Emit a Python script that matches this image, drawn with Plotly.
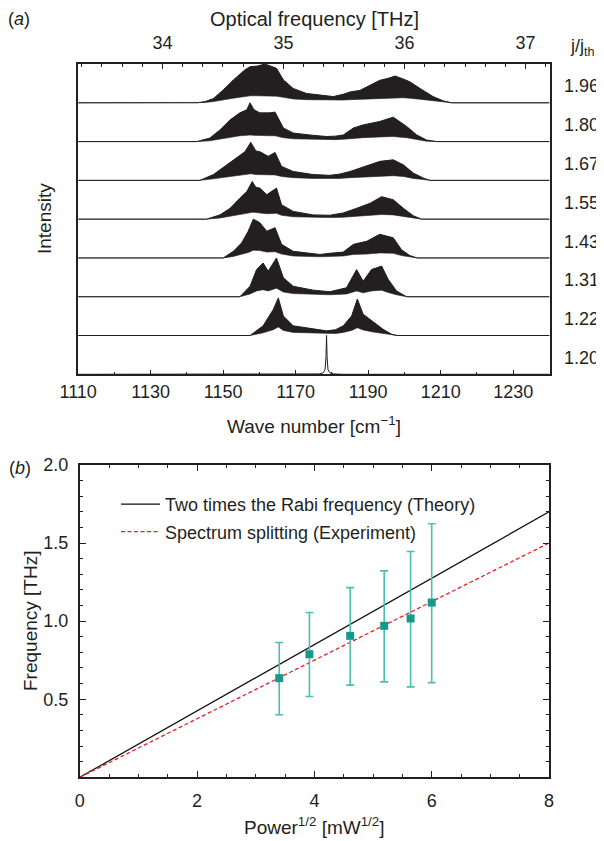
import plotly.graph_objects as go

W, H = 604, 841          # target picture size
BODY = 8                 # default page margin around the plot div
FW, FH = W - BODY, H - BODY
INK = "#231f20"
FONT = "Liberation Sans, Arial, Helvetica, sans-serif"

# ---------------- Panel (a) data: spectra envelopes (wave number cm^-1, normalised intensity) ----------------
j_labels = ["1.20", "1.22", "1.31", "1.43", "1.55", "1.67", "1.80", "1.96"]

wn_120 = [1110, 1174, 1176.5, 1177.6, 1178.1, 1178.35, 1178.5, 1178.65, 1178.9, 1179.4, 1180.5, 1183, 1240]
up_120 = [0, 0, 0.01, 0.04, 0.12, 0.45, 1.0, 0.45, 0.12, 0.04, 0.01, 0, 0]
lo_120 = None

wn_122 = [1110, 1157.4, 1161, 1163.8, 1165.2, 1166.6, 1169.3, 1173, 1178.5, 1181, 1183.1, 1185.4, 1187, 1188.6, 1191.4, 1194.1, 1196.5, 1198, 1240]
up_122 = [0, 0, 0.25, 0.67, 0.97, 0.50, 0.25, 0.20, 0.12, 0.15, 0.25, 0.50, 0.94, 0.55, 0.34, 0.16, 0.03, 0, 0]
lo_122 = [0, 0, 0.07, 0.15, 0.22, 0.13, 0.08, 0.07, 0.05, 0.05, 0.08, 0.13, 0.20, 0.14, 0.09, 0.05, 0.01, 0, 0]

wn_131 = [1110, 1154.6, 1157.4, 1159.2, 1161, 1162.4, 1164.7, 1166.6, 1169.3, 1174.8, 1179.4, 1181.3, 1184, 1186.8, 1188.6, 1190.9, 1193.7, 1195.5, 1197.8, 1200.6, 1240]
up_131 = [0, 0, 0.27, 0.70, 0.87, 0.66, 1.0, 0.49, 0.27, 0.17, 0.13, 0.17, 0.23, 0.70, 0.40, 0.70, 0.79, 0.45, 0.15, 0, 0]
lo_131 = [0, 0, 0.07, 0.15, 0.18, 0.15, 0.22, 0.12, 0.08, 0.06, 0.05, 0.06, 0.07, 0.15, 0.10, 0.15, 0.17, 0.11, 0.05, 0, 0]

wn_143 = [1110, 1150, 1152.8, 1155.1, 1156.9, 1158.3, 1160.1, 1162, 1164.3, 1166.1, 1169.3, 1176.7, 1179.4, 1183.1, 1185.9, 1189.6, 1193.2, 1196.9, 1199.2, 1201.5, 1203.5, 1240]
up_143 = [0, 0, 0.17, 0.39, 0.69, 1.0, 0.91, 0.69, 0.78, 0.35, 0.17, 0.09, 0.12, 0.15, 0.35, 0.43, 0.61, 0.52, 0.21, 0.06, 0, 0]
lo_143 = [0, 0, 0.04, 0.09, 0.14, 0.20, 0.19, 0.15, 0.16, 0.10, 0.05, 0.03, 0.04, 0.05, 0.09, 0.10, 0.13, 0.12, 0.06, 0.02, 0, 0]

wn_155 = [1110, 1145.4, 1149.1, 1151.9, 1154.6, 1156.5, 1158, 1159, 1160.1, 1162, 1164.7, 1166.1, 1169.3, 1174.8, 1179.4, 1183.1, 1186.8, 1190.5, 1193.7, 1196.9, 1199.7, 1202.4, 1204.7, 1240]
up_155 = [0, 0, 0.11, 0.28, 0.54, 0.71, 0.97, 0.82, 0.80, 0.63, 0.80, 0.37, 0.20, 0.11, 0.10, 0.16, 0.28, 0.41, 0.58, 0.50, 0.28, 0.09, 0, 0]
lo_155 = [0, 0, 0.03, 0.07, 0.12, 0.15, 0.18, 0.17, 0.16, 0.14, 0.15, 0.10, 0.06, 0.04, 0.04, 0.05, 0.08, 0.10, 0.12, 0.11, 0.07, 0.03, 0, 0]

wn_167 = [1110, 1143.6, 1147.3, 1151, 1153.7, 1156, 1157.6, 1159, 1160.1, 1162.4, 1164.3, 1166.1, 1169.3, 1174.8, 1179.4, 1182, 1185, 1188.6, 1193.2, 1196.9, 1199.7, 1202.4, 1205.2, 1207, 1240]
up_167 = [0, 0, 0.15, 0.40, 0.57, 0.74, 0.98, 0.76, 0.74, 0.62, 0.72, 0.36, 0.23, 0.15, 0.13, 0.16, 0.23, 0.34, 0.49, 0.53, 0.40, 0.19, 0.06, 0, 0]
lo_167 = [0, 0, 0.04, 0.09, 0.13, 0.15, 0.17, 0.15, 0.15, 0.14, 0.14, 0.10, 0.07, 0.05, 0.05, 0.05, 0.07, 0.09, 0.11, 0.12, 0.10, 0.05, 0.02, 0, 0]

wn_180 = [1110, 1142.7, 1146.3, 1149.1, 1151.9, 1154.6, 1156.5, 1157.4, 1158.5, 1160.1, 1162.9, 1164.3, 1166.6, 1169.3, 1173.9, 1178.5, 1181, 1183.1, 1185.9, 1188.6, 1193.2, 1196.9, 1200.6, 1203.4, 1206.1, 1208.9, 1240]
up_180 = [0, 0, 0.09, 0.30, 0.56, 0.74, 0.82, 1.0, 0.82, 0.74, 0.74, 0.76, 0.35, 0.22, 0.17, 0.13, 0.14, 0.17, 0.35, 0.43, 0.52, 0.63, 0.39, 0.17, 0.04, 0, 0]
lo_180 = [0, 0, 0.02, 0.07, 0.12, 0.15, 0.16, 0.17, 0.16, 0.15, 0.15, 0.15, 0.10, 0.07, 0.06, 0.05, 0.05, 0.06, 0.09, 0.10, 0.12, 0.13, 0.10, 0.05, 0.01, 0, 0]

wn_196 = [1110, 1143, 1145, 1147.3, 1150, 1152.8, 1156, 1157.4, 1159.5, 1161.5, 1163, 1164.7, 1166.6, 1169.3, 1173, 1176.7, 1180.4, 1183.1, 1185, 1187.7, 1189.6, 1193.2, 1195.5, 1197.4, 1199.5, 1201.5, 1204.3, 1207.9, 1210.7, 1213, 1240]
up_196 = [0, 0, 0.03, 0.11, 0.33, 0.59, 0.85, 0.93, 0.95, 1.0, 0.95, 0.89, 0.59, 0.37, 0.24, 0.20, 0.16, 0.22, 0.28, 0.32, 0.41, 0.58, 0.63, 0.69, 0.62, 0.54, 0.37, 0.16, 0.05, 0, 0]
lo_196 = [0, 0, 0.01, 0.03, 0.08, 0.12, 0.16, 0.18, 0.18, 0.18, 0.18, 0.17, 0.14, 0.10, 0.08, 0.07, 0.06, 0.07, 0.08, 0.09, 0.10, 0.12, 0.13, 0.14, 0.13, 0.12, 0.09, 0.05, 0.02, 0, 0]

spectra = [
    (wn_120, up_120, lo_120), (wn_122, up_122, lo_122), (wn_131, up_131, lo_131),
    (wn_143, up_143, lo_143), (wn_155, up_155, lo_155), (wn_167, up_167, lo_167),
    (wn_180, up_180, lo_180), (wn_196, up_196, lo_196),
]

wn_ticks = [1110, 1130, 1150, 1170, 1190, 1210, 1230]
wn_minor = [1120, 1140, 1160, 1180, 1200, 1220]
thz_ticks = [34, 35, 36, 37]

# ---------------- Panel (b) data ----------------
sqrtP = [3.40, 3.915, 4.61, 5.19, 5.64, 6.00]
split = [0.635, 0.788, 0.906, 0.970, 1.017, 1.119]
split_hi = [0.863, 1.055, 1.215, 1.322, 1.446, 1.624]
split_lo = [0.401, 0.517, 0.590, 0.611, 0.579, 0.606]

theory_x = [0, 8]
theory_y = [0, 1.70]
fit_x = [0, 8]
fit_y = [0, 1.50]


def px(x):
    """page pixel x -> paper fraction"""
    return (x - BODY) / FW


def py(y):
    """page pixel y -> paper fraction"""
    return 1 - (y - BODY) / FH


fig = go.Figure()

for i, (wn, up, lo) in enumerate(spectra):
    if lo is None:
        fig.add_trace(go.Scatter(x=wn, y=[i + v for v in up], mode="lines",
                                 line=dict(color=INK, width=1), showlegend=False,
                                 xaxis="x", yaxis="y", hoverinfo="skip"))
    else:
        fig.add_trace(go.Scatter(x=wn, y=[i + v for v in lo], mode="lines",
                                 line=dict(color=INK, width=0.6), showlegend=False,
                                 xaxis="x", yaxis="y", hoverinfo="skip"))
        fig.add_trace(go.Scatter(x=wn, y=[i + v for v in up], mode="lines",
                                 line=dict(color=INK, width=1), fill="tonexty",
                                 fillcolor=INK, showlegend=False,
                                 xaxis="x", yaxis="y", hoverinfo="skip"))

# invisible trace so that the top (THz) axis is drawn
fig.add_trace(go.Scatter(x=thz_ticks, y=[0] * len(thz_ticks), mode="markers",
                         marker=dict(opacity=0), showlegend=False, hoverinfo="skip",
                         xaxis="x2", yaxis="y"))

fig.add_trace(go.Scatter(x=theory_x, y=theory_y, mode="lines",
                         line=dict(color="#111111", width=1.3),
                         name="Two times the Rabi frequency (Theory)",
                         legendgroup="a", xaxis="x3", yaxis="y3"))
fig.add_trace(go.Scatter(x=fit_x, y=fit_y, mode="lines",
                         line=dict(color="#e8202a", width=1.3, dash="4px,2.5px"),
                         name="Spectrum splitting (Experiment)",
                         legendgroup="b", xaxis="x3", yaxis="y3"))
fig.add_trace(go.Scatter(
    x=sqrtP, y=split, mode="markers",
    marker=dict(symbol="square", size=8, color="#17998a"),
    error_y=dict(type="data", symmetric=False,
                 array=[h - v for h, v in zip(split_hi, split)],
                 arrayminus=[v - l for v, l in zip(split, split_lo)],
                 color="#4dbfae", thickness=1.6, width=4),
    showlegend=False, xaxis="x3", yaxis="y3"))

tickfont = dict(family=FONT, size=18, color=INK)
common = dict(showgrid=False, zeroline=False, automargin=False, linecolor=INK, tickcolor=INK)

fig.update_layout(
    width=FW, height=FH,
    margin=dict(l=0, r=0, t=0, b=0, pad=0, autoexpand=False),
    paper_bgcolor="white", plot_bgcolor="white",
    font=dict(family=FONT, color=INK),
    showlegend=True,
    legend=dict(x=px(116), y=py(486), xanchor="left", yanchor="top",
                font=dict(family=FONT, size=18, color=INK),
                bgcolor="rgba(0,0,0,0)", tracegroupgap=1, itemwidth=39),
    xaxis=dict(domain=[px(78.2), px(549.5)], anchor="y", range=[1110, 1240],
               tickvals=wn_ticks, ticks="inside", ticklen=5, tickwidth=1,
               minor=dict(tickvals=wn_minor, ticks="inside", ticklen=3, tickcolor=INK),
               showline=True, linewidth=1.5, tickfont=tickfont, ticklabelstandoff=0, **common),
    xaxis2=dict(overlaying="x", side="top", anchor="y", range=[33.304, 37.198],
                tickvals=thz_ticks, ticks="inside", ticklen=5, tickwidth=1,
                minor=dict(dtick=1 / 6, tick0=34, ticks="inside", ticklen=3, tickcolor=INK),
                showline=True, linewidth=1.5, tickfont=tickfont, ticklabelstandoff=6, **common),
    yaxis=dict(domain=[py(374.3), py(64)], anchor="x", range=[0, 8],
               showticklabels=False, ticks="", showline=True, mirror=True,
               linewidth=1.5, **common),
    xaxis3=dict(domain=[px(79.8), px(549)], anchor="y3", range=[0, 8],
                tickvals=[0, 2, 4, 6, 8], ticks="inside", ticklen=6, tickwidth=1.2,
                minor=dict(dtick=0.5, ticks="inside", ticklen=3, tickcolor=INK),
                showline=True, linewidth=2, mirror="allticks",
                tickfont=tickfont, ticklabelstandoff=6, **common),
    yaxis3=dict(domain=[py(777.3), py(465)], anchor="x3", range=[0, 2],
                tickvals=[0.5, 1.0, 1.5, 2.0], ticktext=["0.5", "1.0", "1.5", "2.0"],
                ticks="inside", ticklen=6, tickwidth=1.2,
                minor=dict(dtick=0.1, ticks="inside", ticklen=3, tickcolor=INK),
                showline=True, linewidth=2, mirror="allticks",
                tickfont=tickfont, ticklabelstandoff=6, **common),
)

ann = []


def add_text(x, y, text, size=19, angle=0, xanchor="center"):
    ann.append(dict(x=px(x), y=py(y), xref="paper", yref="paper", text=text,
                    showarrow=False, textangle=angle, xanchor=xanchor, yanchor="middle",
                    font=dict(family=FONT, size=size, color=INK)))


add_text(19, 19, "(<i>a</i>)", 18)
add_text(314, 19, "Optical frequency [THz]", 20)
add_text(582, 48, "j/j<sub>th</sub>", 18)
add_text(44, 219, "Intensity", 19, -90)
add_text(314, 425, "Wave number [cm<sup>−1</sup>]", 19)
add_text(20, 468, "(<i>b</i>)", 18)
add_text(30, 621, "Frequency [THz]", 19, -90)
add_text(314, 826, "Power<sup>1/2</sup> [mW<sup>1/2</sup>]", 19)

for i, lab in enumerate(j_labels):
    ann.append(dict(x=px(581), y=i + 0.5, xref="paper", yref="y", yshift=-3, text=lab,
                    showarrow=False, xanchor="center", yanchor="middle",
                    font=dict(family=FONT, size=18, color=INK)))

fig.update_layout(annotations=ann)
fig.write_html("out.html")
